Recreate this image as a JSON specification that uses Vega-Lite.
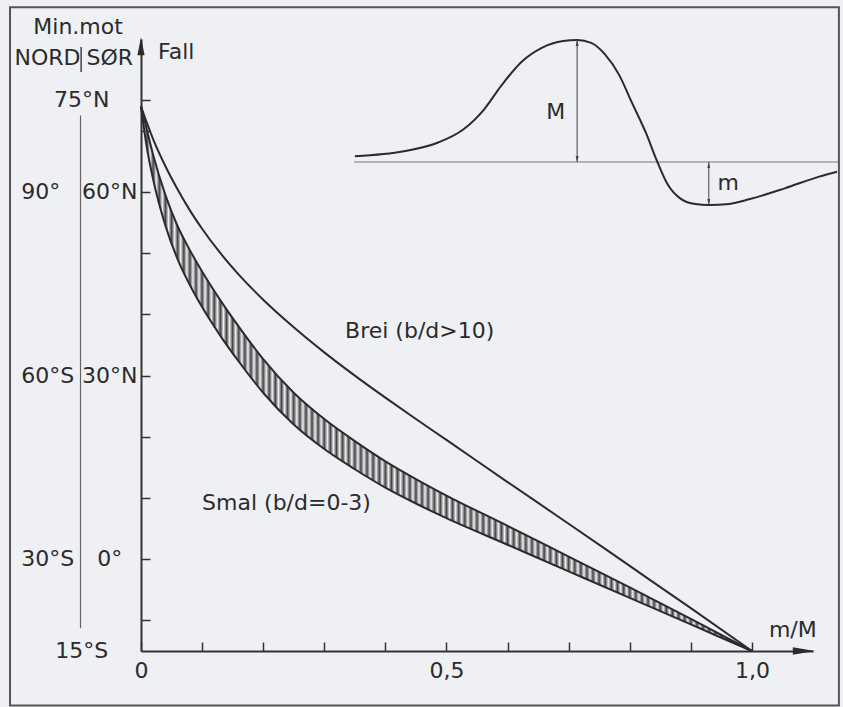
{
  "$schema": "https://vega.github.io/schema/vega-lite/v6.json",
  "width": 672,
  "height": 612,
  "autosize": {"type": "none"},
  "padding": {"left": 141, "top": 39, "right": 30, "bottom": 56},
  "background": "#eef0f4",
  "config": {"view": {"stroke": null}, "font": "DejaVu Sans"},
  "datasets": {
    "curves": [
      {"mM": 0, "smal_lo": 74, "smal_hi": 74, "brei": 74},
      {"mM": 0.01, "smal_lo": 67, "smal_hi": 70, "brei": 71.2},
      {"mM": 0.02, "smal_lo": 62, "smal_hi": 66, "brei": 68.6},
      {"mM": 0.04, "smal_lo": 54.5, "smal_hi": 59.5, "brei": 64.2},
      {"mM": 0.06, "smal_lo": 49, "smal_hi": 54.4, "brei": 60.4},
      {"mM": 0.08, "smal_lo": 44.8, "smal_hi": 50.5, "brei": 57},
      {"mM": 0.1, "smal_lo": 41.2, "smal_hi": 47, "brei": 54},
      {"mM": 0.13, "smal_lo": 36.5, "smal_hi": 42.3, "brei": 50},
      {"mM": 0.16, "smal_lo": 32.3, "smal_hi": 38, "brei": 46.5},
      {"mM": 0.2, "smal_lo": 27.2, "smal_hi": 32.7, "brei": 42.4},
      {"mM": 0.25, "smal_lo": 22, "smal_hi": 27.2, "brei": 37.9},
      {"mM": 0.3, "smal_lo": 18, "smal_hi": 22.9, "brei": 33.8},
      {"mM": 0.35, "smal_lo": 14.7, "smal_hi": 19.3, "brei": 30},
      {"mM": 0.4, "smal_lo": 11.7, "smal_hi": 16, "brei": 26.4},
      {"mM": 0.45, "smal_lo": 9.1, "smal_hi": 13.1, "brei": 22.9},
      {"mM": 0.5, "smal_lo": 6.7, "smal_hi": 10.4, "brei": 19.5},
      {"mM": 0.6, "smal_lo": 2.36, "smal_hi": 5.46, "brei": 12.6},
      {"mM": 0.7, "smal_lo": -1.98, "smal_hi": 0.42, "brei": 5.8},
      {"mM": 0.8, "smal_lo": -6.32, "smal_hi": -4.62, "brei": -1.1},
      {"mM": 0.9, "smal_lo": -10.66, "smal_hi": -9.76, "brei": -8},
      {"mM": 1, "smal_lo": -15, "smal_hi": -15, "brei": -15}
    ],
    "labels": [
      {"lbl": "75°N", "fall": 75, "col": "midt"},
      {"lbl": "90°", "fall": 60, "col": "nord"},
      {"lbl": "60°N", "fall": 60, "col": "sor"},
      {"lbl": "60°S", "fall": 30, "col": "nord"},
      {"lbl": "30°N", "fall": 30, "col": "sor"},
      {"lbl": "30°S", "fall": 0, "col": "nord"},
      {"lbl": "0°", "fall": 0, "col": "sor"},
      {"lbl": "15°S", "fall": -15, "col": "midt"}
    ],
    "inset": [
      {"pos": 0.2, "anom": 4.8},
      {"pos": 10.3, "anom": 8.8},
      {"pos": 17.4, "anom": 16},
      {"pos": 22.5, "anom": 26.4},
      {"pos": 26.9, "anom": 43.2},
      {"pos": 30.4, "anom": 62.4},
      {"pos": 34.7, "anom": 82.4},
      {"pos": 38.8, "anom": 93.6},
      {"pos": 43.2, "anom": 99.2},
      {"pos": 46.1, "anom": 100},
      {"pos": 49.0, "anom": 97.6},
      {"pos": 51.9, "anom": 88},
      {"pos": 54.8, "anom": 71.2},
      {"pos": 57.4, "anom": 48.8},
      {"pos": 60.3, "anom": 24},
      {"pos": 62.6, "anom": 0.8},
      {"pos": 64.7, "anom": -17.6},
      {"pos": 67.6, "anom": -30.4},
      {"pos": 70.5, "anom": -34.4},
      {"pos": 73.3, "anom": -35.2},
      {"pos": 77.5, "anom": -34.4},
      {"pos": 81.8, "anom": -30.4},
      {"pos": 89.0, "anom": -21.6},
      {"pos": 96.1, "anom": -12},
      {"pos": 99.8, "anom": -8}
    ],
    "insetMarks": [
      {"name": "M", "pos": 46.1, "top": 100, "bottom": 0},
      {"name": "m", "pos": 73.3, "top": 0, "bottom": -35.2}
    ]
  },
  "layer": [
    {
      "layer": [
        {
          "data": {"values": [{}]},
          "mark": {"type": "rect", "fillOpacity": 0, "stroke": "#555", "strokeWidth": 2},
          "encoding": {
            "x": {"datum": -0.2144, "scale": {"domain": [0, 1.1], "nice": false, "zero": false}},
            "x2": {"datum": 1.1424},
            "y": {"datum": 90.2, "scale": {"domain": [-15, 85], "nice": false, "zero": false}},
            "y2": {"datum": -23.9}
          }
        },
        {
          "data": {"name": "curves"},
          "mark": {
            "type": "area",
            "interpolate": "monotone",
            "color": {
              "gradient": "linear", "x1": 0, "y1": 0, "x2": 1, "y2": 0,
              "stops": [
                {"offset":0,"color":"#444"},{"offset":0.005,"color":"#eef0f4"},{"offset":0.01,"color":"#444"},{"offset":0.015,"color":"#eef0f4"},{"offset":0.02,"color":"#444"},{"offset":0.025,"color":"#eef0f4"},{"offset":0.03,"color":"#444"},{"offset":0.035,"color":"#eef0f4"},{"offset":0.04,"color":"#444"},{"offset":0.045,"color":"#eef0f4"},
                {"offset":0.05,"color":"#444"},{"offset":0.055,"color":"#eef0f4"},{"offset":0.06,"color":"#444"},{"offset":0.065,"color":"#eef0f4"},{"offset":0.07,"color":"#444"},{"offset":0.075,"color":"#eef0f4"},{"offset":0.08,"color":"#444"},{"offset":0.085,"color":"#eef0f4"},{"offset":0.09,"color":"#444"},{"offset":0.095,"color":"#eef0f4"},
                {"offset":0.1,"color":"#444"},{"offset":0.105,"color":"#eef0f4"},{"offset":0.11,"color":"#444"},{"offset":0.115,"color":"#eef0f4"},{"offset":0.12,"color":"#444"},{"offset":0.125,"color":"#eef0f4"},{"offset":0.13,"color":"#444"},{"offset":0.135,"color":"#eef0f4"},{"offset":0.14,"color":"#444"},{"offset":0.145,"color":"#eef0f4"},
                {"offset":0.15,"color":"#444"},{"offset":0.155,"color":"#eef0f4"},{"offset":0.16,"color":"#444"},{"offset":0.165,"color":"#eef0f4"},{"offset":0.17,"color":"#444"},{"offset":0.175,"color":"#eef0f4"},{"offset":0.18,"color":"#444"},{"offset":0.185,"color":"#eef0f4"},{"offset":0.19,"color":"#444"},{"offset":0.195,"color":"#eef0f4"},
                {"offset":0.2,"color":"#444"},{"offset":0.205,"color":"#eef0f4"},{"offset":0.21,"color":"#444"},{"offset":0.215,"color":"#eef0f4"},{"offset":0.22,"color":"#444"},{"offset":0.225,"color":"#eef0f4"},{"offset":0.23,"color":"#444"},{"offset":0.235,"color":"#eef0f4"},{"offset":0.24,"color":"#444"},{"offset":0.245,"color":"#eef0f4"},
                {"offset":0.25,"color":"#444"},{"offset":0.255,"color":"#eef0f4"},{"offset":0.26,"color":"#444"},{"offset":0.265,"color":"#eef0f4"},{"offset":0.27,"color":"#444"},{"offset":0.275,"color":"#eef0f4"},{"offset":0.28,"color":"#444"},{"offset":0.285,"color":"#eef0f4"},{"offset":0.29,"color":"#444"},{"offset":0.295,"color":"#eef0f4"},
                {"offset":0.3,"color":"#444"},{"offset":0.305,"color":"#eef0f4"},{"offset":0.31,"color":"#444"},{"offset":0.315,"color":"#eef0f4"},{"offset":0.32,"color":"#444"},{"offset":0.325,"color":"#eef0f4"},{"offset":0.33,"color":"#444"},{"offset":0.335,"color":"#eef0f4"},{"offset":0.34,"color":"#444"},{"offset":0.345,"color":"#eef0f4"},
                {"offset":0.35,"color":"#444"},{"offset":0.355,"color":"#eef0f4"},{"offset":0.36,"color":"#444"},{"offset":0.365,"color":"#eef0f4"},{"offset":0.37,"color":"#444"},{"offset":0.375,"color":"#eef0f4"},{"offset":0.38,"color":"#444"},{"offset":0.385,"color":"#eef0f4"},{"offset":0.39,"color":"#444"},{"offset":0.395,"color":"#eef0f4"},
                {"offset":0.4,"color":"#444"},{"offset":0.405,"color":"#eef0f4"},{"offset":0.41,"color":"#444"},{"offset":0.415,"color":"#eef0f4"},{"offset":0.42,"color":"#444"},{"offset":0.425,"color":"#eef0f4"},{"offset":0.43,"color":"#444"},{"offset":0.435,"color":"#eef0f4"},{"offset":0.44,"color":"#444"},{"offset":0.445,"color":"#eef0f4"},
                {"offset":0.45,"color":"#444"},{"offset":0.455,"color":"#eef0f4"},{"offset":0.46,"color":"#444"},{"offset":0.465,"color":"#eef0f4"},{"offset":0.47,"color":"#444"},{"offset":0.475,"color":"#eef0f4"},{"offset":0.48,"color":"#444"},{"offset":0.485,"color":"#eef0f4"},{"offset":0.49,"color":"#444"},{"offset":0.495,"color":"#eef0f4"},
                {"offset":0.5,"color":"#444"},{"offset":0.505,"color":"#eef0f4"},{"offset":0.51,"color":"#444"},{"offset":0.515,"color":"#eef0f4"},{"offset":0.52,"color":"#444"},{"offset":0.525,"color":"#eef0f4"},{"offset":0.53,"color":"#444"},{"offset":0.535,"color":"#eef0f4"},{"offset":0.54,"color":"#444"},{"offset":0.545,"color":"#eef0f4"},
                {"offset":0.55,"color":"#444"},{"offset":0.555,"color":"#eef0f4"},{"offset":0.56,"color":"#444"},{"offset":0.565,"color":"#eef0f4"},{"offset":0.57,"color":"#444"},{"offset":0.575,"color":"#eef0f4"},{"offset":0.58,"color":"#444"},{"offset":0.585,"color":"#eef0f4"},{"offset":0.59,"color":"#444"},{"offset":0.595,"color":"#eef0f4"},
                {"offset":0.6,"color":"#444"},{"offset":0.605,"color":"#eef0f4"},{"offset":0.61,"color":"#444"},{"offset":0.615,"color":"#eef0f4"},{"offset":0.62,"color":"#444"},{"offset":0.625,"color":"#eef0f4"},{"offset":0.63,"color":"#444"},{"offset":0.635,"color":"#eef0f4"},{"offset":0.64,"color":"#444"},{"offset":0.645,"color":"#eef0f4"},
                {"offset":0.65,"color":"#444"},{"offset":0.655,"color":"#eef0f4"},{"offset":0.66,"color":"#444"},{"offset":0.665,"color":"#eef0f4"},{"offset":0.67,"color":"#444"},{"offset":0.675,"color":"#eef0f4"},{"offset":0.68,"color":"#444"},{"offset":0.685,"color":"#eef0f4"},{"offset":0.69,"color":"#444"},{"offset":0.695,"color":"#eef0f4"},
                {"offset":0.7,"color":"#444"},{"offset":0.705,"color":"#eef0f4"},{"offset":0.71,"color":"#444"},{"offset":0.715,"color":"#eef0f4"},{"offset":0.72,"color":"#444"},{"offset":0.725,"color":"#eef0f4"},{"offset":0.73,"color":"#444"},{"offset":0.735,"color":"#eef0f4"},{"offset":0.74,"color":"#444"},{"offset":0.745,"color":"#eef0f4"},
                {"offset":0.75,"color":"#444"},{"offset":0.755,"color":"#eef0f4"},{"offset":0.76,"color":"#444"},{"offset":0.765,"color":"#eef0f4"},{"offset":0.77,"color":"#444"},{"offset":0.775,"color":"#eef0f4"},{"offset":0.78,"color":"#444"},{"offset":0.785,"color":"#eef0f4"},{"offset":0.79,"color":"#444"},{"offset":0.795,"color":"#eef0f4"},
                {"offset":0.8,"color":"#444"},{"offset":0.805,"color":"#eef0f4"},{"offset":0.81,"color":"#444"},{"offset":0.815,"color":"#eef0f4"},{"offset":0.82,"color":"#444"},{"offset":0.825,"color":"#eef0f4"},{"offset":0.83,"color":"#444"},{"offset":0.835,"color":"#eef0f4"},{"offset":0.84,"color":"#444"},{"offset":0.845,"color":"#eef0f4"},
                {"offset":0.85,"color":"#444"},{"offset":0.855,"color":"#eef0f4"},{"offset":0.86,"color":"#444"},{"offset":0.865,"color":"#eef0f4"},{"offset":0.87,"color":"#444"},{"offset":0.875,"color":"#eef0f4"},{"offset":0.88,"color":"#444"},{"offset":0.885,"color":"#eef0f4"},{"offset":0.89,"color":"#444"},{"offset":0.895,"color":"#eef0f4"},
                {"offset":0.9,"color":"#444"},{"offset":0.905,"color":"#eef0f4"},{"offset":0.91,"color":"#444"},{"offset":0.915,"color":"#eef0f4"},{"offset":0.92,"color":"#444"},{"offset":0.925,"color":"#eef0f4"},{"offset":0.93,"color":"#444"},{"offset":0.935,"color":"#eef0f4"},{"offset":0.94,"color":"#444"},{"offset":0.945,"color":"#eef0f4"},
                {"offset":0.95,"color":"#444"},{"offset":0.955,"color":"#eef0f4"},{"offset":0.96,"color":"#444"},{"offset":0.965,"color":"#eef0f4"},{"offset":0.97,"color":"#444"},{"offset":0.975,"color":"#eef0f4"},{"offset":0.98,"color":"#444"},{"offset":0.985,"color":"#eef0f4"},{"offset":0.99,"color":"#444"},{"offset":0.995,"color":"#eef0f4"},
                {"offset":1,"color":"#444"}
              ]
            }
          },
          "encoding": {
            "x": {
              "field": "mM", "type": "quantitative",
              "scale": {"domain": [0, 1.1], "nice": false, "zero": false},
              "axis": {
                "values": [0, 0.1, 0.2, 0.3, 0.4, 0.5, 0.6, 0.7, 0.8, 0.9, 1],
                "labelExpr": "datum.value == 0 ? '0' : abs(datum.value - 0.5) < 0.001 ? '0,5' : abs(datum.value - 1) < 0.001 ? '1,0' : ''",
                "title": null, "grid": false,
                "domainColor": "#333", "domainWidth": 2,
                "tickColor": "#333", "tickWidth": 1.5, "tickSize": -9,
                "labelFont": "DejaVu Sans", "labelFontSize": 22, "labelColor": "#2b2b2b",
                "labelPadding": 18, "labelFlush": false, "labelOverlap": false
              }
            },
            "y": {
              "field": "smal_hi", "type": "quantitative",
              "scale": {"domain": [-15, 85], "nice": false, "zero": false},
              "axis": {
                "values": [-10, 0, 10, 20, 30, 40, 50, 60, 70, 75],
                "labels": false, "title": null, "grid": false,
                "domainColor": "#333", "domainWidth": 2,
                "tickColor": "#333", "tickWidth": 1.5, "tickSize": -9
              }
            },
            "y2": {"field": "smal_lo"}
          }
        },
        {
          "data": {"name": "curves"},
          "transform": [{"fold": ["smal_lo", "smal_hi", "brei"], "as": ["kurve", "fall"]}],
          "mark": {"type": "line", "interpolate": "monotone", "color": "#2b2b2b", "strokeWidth": 2},
          "encoding": {
            "x": {"field": "mM", "type": "quantitative", "title": null},
            "y": {"field": "fall", "type": "quantitative", "title": null},
            "detail": {"field": "kurve"}
          }
        },
        {
          "data": {"values": [{}]},
          "mark": {"type": "rule", "color": "#666", "strokeWidth": 1.2},
          "encoding": {"x": {"datum": -0.099}, "y": {"datum": 72.5}, "y2": {"datum": -11.3}}
        },
        {
          "data": {"values": [{}]},
          "mark": {"type": "rule", "color": "#444", "strokeWidth": 1.5},
          "encoding": {"x": {"datum": -0.098}, "y": {"datum": 83.7}, "y2": {"datum": 79.6}}
        },
        {
          "data": {"name": "labels"},
          "transform": [{"filter": "datum.col == 'nord'"}],
          "mark": {"type": "text", "align": "left", "baseline": "middle", "font": "DejaVu Sans", "fontSize": 22, "color": "#2b2b2b"},
          "encoding": {"x": {"datum": -0.196}, "y": {"field": "fall", "type": "quantitative", "title": null}, "text": {"field": "lbl"}}
        },
        {
          "data": {"name": "labels"},
          "transform": [{"filter": "datum.col == 'sor'"}],
          "mark": {"type": "text", "align": "center", "baseline": "middle", "font": "DejaVu Sans", "fontSize": 22, "color": "#2b2b2b"},
          "encoding": {"x": {"datum": -0.051}, "y": {"field": "fall", "type": "quantitative", "title": null}, "text": {"field": "lbl"}}
        },
        {
          "data": {"name": "labels"},
          "transform": [{"filter": "datum.col == 'midt'"}],
          "mark": {"type": "text", "align": "center", "baseline": "middle", "font": "DejaVu Sans", "fontSize": 22, "color": "#2b2b2b"},
          "encoding": {"x": {"datum": -0.097}, "y": {"field": "fall", "type": "quantitative", "title": null}, "text": {"field": "lbl"}}
        },
        {
          "data": {"values": [{}]},
          "mark": {"type": "text", "text": "Min.mot", "align": "center", "baseline": "middle", "font": "DejaVu Sans", "fontSize": 22, "color": "#2b2b2b"},
          "encoding": {"x": {"datum": -0.103}, "y": {"datum": 86.9}}
        },
        {
          "data": {"values": [{}]},
          "mark": {"type": "text", "text": "NORD", "align": "center", "baseline": "middle", "font": "DejaVu Sans", "fontSize": 22, "color": "#2b2b2b"},
          "encoding": {"x": {"datum": -0.153}, "y": {"datum": 81.9}}
        },
        {
          "data": {"values": [{}]},
          "mark": {"type": "text", "text": "SØR", "align": "center", "baseline": "middle", "font": "DejaVu Sans", "fontSize": 22, "color": "#2b2b2b"},
          "encoding": {"x": {"datum": -0.051}, "y": {"datum": 81.9}}
        },
        {
          "data": {"values": [{}]},
          "mark": {"type": "text", "text": "Fall", "align": "left", "baseline": "middle", "font": "DejaVu Sans", "fontSize": 22, "color": "#2b2b2b"},
          "encoding": {"x": {"datum": 0.028}, "y": {"datum": 82.8}}
        },
        {
          "data": {"values": [{}]},
          "mark": {"type": "text", "text": "m/M", "align": "center", "baseline": "middle", "font": "DejaVu Sans", "fontSize": 22, "color": "#2b2b2b"},
          "encoding": {"x": {"datum": 1.067}, "y": {"datum": -11.6}}
        },
        {
          "data": {"values": [{}]},
          "mark": {"type": "text", "text": "Brei (b/d>10)", "align": "left", "baseline": "middle", "font": "DejaVu Sans", "fontSize": 22, "color": "#2b2b2b"},
          "encoding": {"x": {"datum": 0.334}, "y": {"datum": 37.3}}
        },
        {
          "data": {"values": [{}]},
          "mark": {"type": "text", "text": "Smal (b/d=0-3)", "align": "left", "baseline": "middle", "font": "DejaVu Sans", "fontSize": 22, "color": "#2b2b2b"},
          "encoding": {"x": {"datum": 0.1}, "y": {"datum": 9.2}}
        },
        {
          "data": {"values": [{}]},
          "mark": {"type": "point", "shape": "M0,0L0.4,2L-0.4,2Z", "size": 324, "filled": true, "color": "#2b2b2b", "opacity": 1},
          "encoding": {"x": {"datum": 0}, "y": {"datum": 85.3}}
        },
        {
          "data": {"values": [{}]},
          "mark": {"type": "point", "shape": "M0,0L-2,-0.35L-2,0.35Z", "size": 484, "filled": true, "color": "#2b2b2b", "opacity": 1},
          "encoding": {"x": {"datum": 1.103}, "y": {"datum": -15}}
        }
      ]
    },
    {
      "layer": [
        {
          "data": {"values": [{}]},
          "mark": {"type": "rule", "color": "#777", "strokeWidth": 1.2},
          "encoding": {
            "x": {"datum": 0, "scale": {"domain": [-44, 94.83], "nice": false, "zero": false}, "axis": null},
            "x2": {"datum": 100},
            "y": {"datum": 0, "scale": {"domain": [-400.8, 100.8], "nice": false, "zero": false}, "axis": null}
          }
        },
        {
          "data": {"name": "inset"},
          "mark": {"type": "line", "interpolate": "monotone", "color": "#2b2b2b", "strokeWidth": 2},
          "encoding": {
            "x": {"field": "pos", "type": "quantitative", "axis": null},
            "y": {"field": "anom", "type": "quantitative", "axis": null}
          }
        },
        {
          "data": {"name": "insetMarks"},
          "mark": {"type": "rule", "color": "#444", "strokeWidth": 1},
          "encoding": {
            "x": {"field": "pos", "type": "quantitative", "axis": null},
            "y": {"field": "top", "type": "quantitative", "axis": null},
            "y2": {"field": "bottom"}
          }
        },
        {
          "data": {"name": "insetMarks"},
          "mark": {"type": "point", "shape": "M0,0L0.5,2L-0.5,2Z", "size": 36, "filled": true, "color": "#444", "opacity": 1},
          "encoding": {
            "x": {"field": "pos", "type": "quantitative", "axis": null},
            "y": {"field": "top", "type": "quantitative", "axis": null}
          }
        },
        {
          "data": {"name": "insetMarks"},
          "mark": {"type": "point", "shape": "M0,0L0.5,-2L-0.5,-2Z", "size": 36, "filled": true, "color": "#444", "opacity": 1},
          "encoding": {
            "x": {"field": "pos", "type": "quantitative", "axis": null},
            "y": {"field": "bottom", "type": "quantitative", "axis": null}
          }
        },
        {
          "data": {"values": [{}]},
          "mark": {"type": "text", "text": "M", "align": "center", "baseline": "middle", "font": "DejaVu Sans", "fontSize": 22, "color": "#2b2b2b"},
          "encoding": {"x": {"datum": 41.7}, "y": {"datum": 40.8}}
        },
        {
          "data": {"values": [{}]},
          "mark": {"type": "text", "text": "m", "align": "center", "baseline": "middle", "font": "DejaVu Sans", "fontSize": 22, "color": "#2b2b2b"},
          "encoding": {"x": {"datum": 77.3}, "y": {"datum": -17.6}}
        }
      ]
    }
  ],
  "resolve": {"scale": {"x": "independent", "y": "independent"}}
}
